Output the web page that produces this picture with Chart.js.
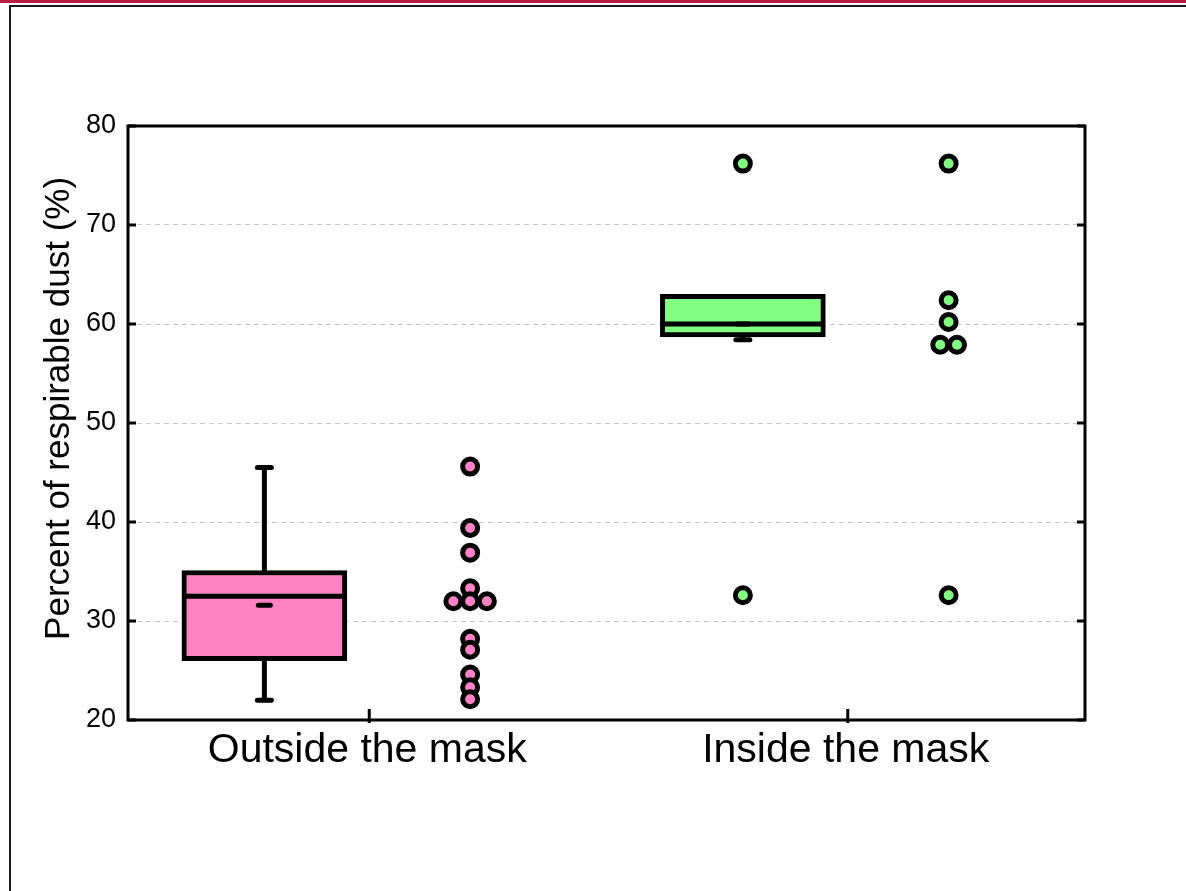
<!DOCTYPE html>
<html>
<head>
<meta charset="utf-8">
<script src="https://cdn.jsdelivr.net/npm/chart.js@4.4.1/dist/chart.umd.min.js"></script>
<style>
  html, body { margin: 0; padding: 0; background: #fff; overflow: hidden; }
  .topline { position: absolute; left: 0; top: 0; width: 1186px; height: 3px; background: #b81c45; }
  .frame { position: absolute; left: 9px; top: 5px; width: 1200px; height: 900px;
           border-left: 2px solid #1a1a1a; border-top: 2px solid #1a1a1a; }
  #wrap { position: absolute; left: 0; top: 0; width: 1186px; height: 891px; }
</style>
</head>
<body>
<div class="topline"></div>
<div class="frame"></div>
<div id="wrap"><canvas id="chart"></canvas></div>
<script>
// groups on the x axis
const categories = ['Outside the mask', 'Inside the mask'];
const yTicks = [20, 30, 40, 50, 60, 70, 80];

// box plot summary, one entry per group (null = no whisker drawn)
const boxQ1 = [26.0, 58.7];
const boxQ3 = [35.1, 63.0];
const medians = [32.5, 60.0];
const means = [31.6, 60.0];
const whiskerLow = [22.0, 58.4];
const whiskerHigh = [45.5, null];
const outliers = [[], [76.2, 32.6]];

// raw points shown next to each box
const outsideValues = [45.6, 39.4, 36.9, 33.3, 32.0, 32.0, 32.0, 28.2, 27.1, 24.6, 23.3, 22.1];
const insideValues = [76.2, 62.4, 60.2, 57.9, 57.9, 32.6];

const pink = '#ff82c2';
const green = '#82ff82';
const boxShift = 0.215;   // box left of the category centre, dots right of it
const dotGap = 0.035;     // spacing for equal values side by side

function spreadPoints(values, centre) {
  const counts = {};
  values.forEach(v => { counts[v] = (counts[v] || 0) + 1; });
  const seen = {};
  return values.map(v => {
    const n = counts[v];
    const k = seen[v] || 0;
    seen[v] = k + 1;
    return { x: centre + (k - (n - 1) / 2) * dotGap, y: v };
  });
}

const outlierPoints = [];
outliers.forEach((list, i) => list.forEach(v => outlierPoints.push({ x: i + 0.5 - boxShift, y: v })));

function drawWhisker(ctx, ys, x, from, to) {
  if (to === null) return;
  const y = ys.getPixelForValue(to);
  ctx.beginPath();
  ctx.moveTo(x, ys.getPixelForValue(from));
  ctx.lineTo(x, y);
  ctx.moveTo(x - 7, y);
  ctx.lineTo(x + 7, y);
  ctx.stroke();
}

const boxPlotLines = {
  id: 'boxPlotLines',
  beforeDatasetsDraw(chart) {
    const ctx = chart.ctx;
    const xs = chart.scales.x, ys = chart.scales.y;
    ctx.save();
    ctx.strokeStyle = '#000';
    ctx.lineCap = 'round';
    ctx.lineWidth = 5;
    categories.forEach((c, i) => {
      const x = xs.getPixelForValue(i + 0.5 - boxShift);
      drawWhisker(ctx, ys, x, boxQ3[i], whiskerHigh[i]);
      drawWhisker(ctx, ys, x, boxQ1[i], whiskerLow[i]);
    });
    ctx.restore();
  },
  afterDatasetsDraw(chart) {
    const ctx = chart.ctx;
    const xs = chart.scales.x, ys = chart.scales.y;
    ctx.save();
    ctx.strokeStyle = '#000';
    categories.forEach((c, i) => {
      const x = xs.getPixelForValue(i + 0.5 - boxShift);
      ctx.lineWidth = 5;
      ctx.lineCap = 'butt';
      ctx.beginPath();
      const ym = ys.getPixelForValue(medians[i]);
      ctx.moveTo(x - 82, ym);
      ctx.lineTo(x + 82, ym);
      ctx.stroke();
      ctx.lineCap = 'round';
      const ya = ys.getPixelForValue(means[i]);
      ctx.beginPath();
      ctx.moveTo(x - 6, ya);
      ctx.lineTo(x + 6, ya);
      ctx.stroke();
    });
    ctx.restore();
  },
  afterDraw(chart) {
    const ctx = chart.ctx;
    const a = chart.chartArea;
    const xs = chart.scales.x, ys = chart.scales.y;
    ctx.save();
    ctx.strokeStyle = '#000';
    ctx.lineWidth = 3;
    ctx.strokeRect(a.left, a.top, a.right - a.left, a.bottom - a.top);
    ys.ticks.forEach(t => {
      const y = ys.getPixelForValue(t.value);
      ctx.beginPath();
      ctx.moveTo(a.left, y); ctx.lineTo(a.left + 8, y);
      ctx.moveTo(a.right, y); ctx.lineTo(a.right - 8, y);
      ctx.stroke();
    });
    xs.ticks.forEach(t => {
      const x = xs.getPixelForValue(t.value);
      ctx.beginPath();
      ctx.moveTo(x + 2, a.bottom + 3); ctx.lineTo(x + 2, a.bottom - 11);
      ctx.stroke();
    });
    ctx.restore();
  }
};

const dotStyle = { pointRadius: 7.5, pointHoverRadius: 7.5, pointBorderWidth: 5, pointBorderColor: '#000', showLine: false };

new Chart(document.getElementById('chart'), {
  type: 'scatter',
  data: {
    datasets: [
      {
        type: 'bar',
        data: categories.map((c, i) => ({ x: i + 0.5 - boxShift, y: [boxQ1[i], boxQ3[i]] })),
        backgroundColor: [pink, green],
        borderColor: '#000',
        borderWidth: 5,
        borderSkipped: false,
        barThickness: 165
      },
      Object.assign({ data: spreadPoints(outsideValues, 0.5 + boxShift), pointBackgroundColor: pink }, dotStyle),
      Object.assign({ data: spreadPoints(insideValues, 1.5 + boxShift), pointBackgroundColor: green }, dotStyle),
      Object.assign({ data: outlierPoints, pointBackgroundColor: green }, dotStyle)
    ]
  },
  options: {
    responsive: true,
    maintainAspectRatio: false,
    devicePixelRatio: 1,
    animation: false,
    layout: { padding: { top: 126, right: 101, bottom: 0, left: 0 } },
    plugins: { legend: { display: false }, tooltip: { enabled: false } },
    scales: {
      x: {
        type: 'linear',
        min: 0,
        max: 2,
        offset: false,
        grid: { display: false, drawTicks: false, offset: false },
        border: { display: false },
        afterBuildTicks: s => { s.ticks = categories.map((c, i) => ({ value: i + 0.5 })); },
        afterFit: s => { s.height = 171; },
        ticks: {
          callback: (v, i) => categories[i],
          color: '#000',
          padding: 6,
          maxRotation: 0,
          font: { family: 'Liberation Sans, Arial, sans-serif', size: 41 }
        }
      },
      y: {
        min: 20,
        max: 80,
        afterBuildTicks: s => { s.ticks = yTicks.map(v => ({ value: v })); },
        afterFit: s => { s.width = 128; },
        grid: { color: '#c4c4c4', lineWidth: 1, drawTicks: false },
        border: { display: false, dash: [5, 4] },
        ticks: {
          color: '#000',
          padding: 12,
          font: { family: 'Liberation Sans, Arial, sans-serif', size: 27 }
        },
        title: {
          display: true,
          // leading spaces lift the rotated title a little, as in the original
          text: '\u00a0\u00a0\u00a0Percent of respirable dust (%)',
          color: '#000',
          padding: { top: 38, bottom: 0 },
          font: { family: 'Liberation Sans, Arial, sans-serif', size: 35 }
        }
      }
    }
  },
  plugins: [boxPlotLines]
});
</script>
</body>
</html>
